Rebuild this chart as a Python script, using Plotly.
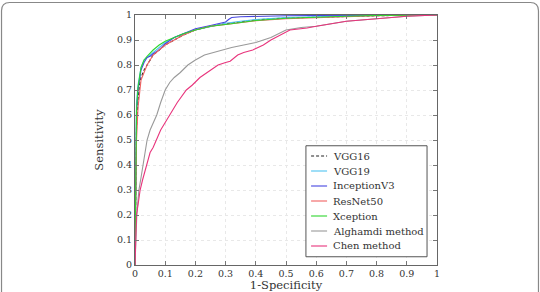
import plotly.graph_objects as go

# ---- data ----
vgg16_x = [0, 0.002, 0.005, 0.01, 0.015, 0.02, 0.03, 0.04, 0.05, 0.06, 0.08, 0.1, 0.13, 0.16, 0.2, 0.25, 0.3, 0.35, 0.4, 0.5, 0.6, 0.7, 0.8, 0.9, 1]
vgg16_y = [0, 0.35, 0.55, 0.66, 0.72, 0.75, 0.78, 0.80, 0.82, 0.84, 0.86, 0.88, 0.90, 0.92, 0.94, 0.955, 0.965, 0.972, 0.98, 0.988, 0.992, 0.995, 0.997, 0.999, 1]

vgg19_x = [0, 0.002, 0.005, 0.01, 0.015, 0.02, 0.03, 0.04, 0.06, 0.08, 0.1, 0.13, 0.16, 0.2, 0.25, 0.3, 0.35, 0.4, 0.5, 0.6, 0.7, 0.8, 0.9, 1]
vgg19_y = [0, 0.45, 0.65, 0.72, 0.76, 0.79, 0.82, 0.83, 0.85, 0.87, 0.89, 0.91, 0.925, 0.94, 0.955, 0.967, 0.975, 0.982, 0.99, 0.994, 0.996, 0.998, 0.999, 1]

incv3_x = [0, 0.002, 0.005, 0.01, 0.015, 0.02, 0.03, 0.04, 0.05, 0.06, 0.08, 0.1, 0.13, 0.16, 0.2, 0.25, 0.3, 0.31, 0.32, 0.35, 0.4, 0.5, 0.6, 0.7, 0.8, 0.9, 1]
incv3_y = [0, 0.40, 0.60, 0.70, 0.75, 0.78, 0.81, 0.83, 0.835, 0.845, 0.86, 0.885, 0.91, 0.925, 0.945, 0.958, 0.972, 0.982, 0.99, 0.993, 0.995, 0.997, 0.998, 0.999, 1, 1, 1]

resnet_x = [0, 0.002, 0.005, 0.01, 0.015, 0.02, 0.03, 0.04, 0.05, 0.06, 0.08, 0.1, 0.13, 0.16, 0.2, 0.25, 0.3, 0.35, 0.4, 0.5, 0.6, 0.7, 0.8, 0.9, 1]
resnet_y = [0, 0.30, 0.50, 0.63, 0.70, 0.74, 0.77, 0.80, 0.82, 0.84, 0.86, 0.88, 0.90, 0.92, 0.94, 0.955, 0.962, 0.97, 0.977, 0.985, 0.99, 0.994, 0.997, 0.999, 1]

xcep_x = [0, 0.002, 0.005, 0.01, 0.015, 0.02, 0.03, 0.04, 0.06, 0.08, 0.1, 0.13, 0.16, 0.2, 0.25, 0.3, 0.35, 0.4, 0.5, 0.6, 0.7, 0.8, 0.9, 1]
xcep_y = [0, 0.40, 0.62, 0.71, 0.76, 0.79, 0.82, 0.835, 0.86, 0.88, 0.895, 0.91, 0.925, 0.94, 0.955, 0.962, 0.97, 0.978, 0.987, 0.992, 0.995, 0.998, 1, 1]

algh_x = [0, 0.003, 0.006, 0.01, 0.013, 0.02, 0.027, 0.035, 0.04, 0.05, 0.06, 0.072, 0.085, 0.1, 0.115, 0.13, 0.15, 0.175, 0.2, 0.23, 0.26, 0.29, 0.32, 0.36, 0.4, 0.45, 0.5, 0.55, 0.6, 0.7, 0.8, 0.9, 1]
algh_y = [0, 0.12, 0.20, 0.26, 0.30, 0.35, 0.40, 0.45, 0.50, 0.54, 0.57, 0.60, 0.65, 0.70, 0.73, 0.75, 0.77, 0.80, 0.82, 0.84, 0.85, 0.86, 0.87, 0.88, 0.89, 0.91, 0.94, 0.95, 0.955, 0.975, 0.985, 0.995, 1]

chen_x = [0, 0.002, 0.003, 0.005, 0.01, 0.017, 0.025, 0.032, 0.04, 0.05, 0.06, 0.07, 0.085, 0.1, 0.116, 0.14, 0.17, 0.19, 0.215, 0.24, 0.275, 0.3, 0.315, 0.34, 0.36, 0.39, 0.425, 0.45, 0.48, 0.513, 0.57, 0.6, 0.7, 0.8, 0.9, 1]
chen_y = [0, 0.08, 0.15, 0.20, 0.24, 0.30, 0.34, 0.37, 0.40, 0.45, 0.47, 0.50, 0.54, 0.57, 0.60, 0.65, 0.70, 0.72, 0.75, 0.77, 0.80, 0.81, 0.815, 0.84, 0.85, 0.86, 0.88, 0.90, 0.92, 0.94, 0.948, 0.955, 0.975, 0.985, 0.995, 1]

tick_vals = [0, 0.1, 0.2, 0.3, 0.4, 0.5, 0.6, 0.7, 0.8, 0.9, 1]
tick_text = ["0", "0.1", "0.2", "0.3", "0.4", "0.5", "0.6", "0.7", "0.8", "0.9", "1"]

series_names = ["VGG16", "VGG19", "InceptionV3", "ResNet50", "Xception", "Alghamdi method", "Chen method"]
series_x = [vgg16_x, vgg19_x, incv3_x, resnet_x, xcep_x, algh_x, chen_x]
series_y = [vgg16_y, vgg19_y, incv3_y, resnet_y, xcep_y, algh_y, chen_y]
series_colors = ["#222222", "#4fc3f0", "#4646e0", "#f06262", "#2ed62e", "#999999", "#e8347c"]
series_dash = ["3px,2px", "solid", "solid", "solid", "solid", "solid", "solid"]

FONT = "DejaVu Serif"
TXT = "#333333"

fig = go.Figure()
for name, xs, ys, col, dash in zip(series_names, series_x, series_y, series_colors, series_dash):
    fig.add_trace(go.Scatter(x=xs, y=ys, mode="lines", name=name, showlegend=False,
                             line=dict(color=col, width=1.1, dash=dash)))

axis_common = dict(
    range=[0, 1], tickvals=tick_vals, ticktext=tick_text,
    ticks="inside", ticklen=4, tickcolor="#777777", tickwidth=0.8,
    showline=True, linecolor="#666666", linewidth=1, mirror="ticks",
    showgrid=True, gridcolor="#e8e8e8", griddash="dot", gridwidth=1,
    zeroline=False, automargin=False,
    tickfont=dict(family=FONT, size=9.5, color=TXT),
)

fig.update_layout(
    width=540, height=292,
    margin=dict(l=135, r=103, t=15, b=27),
    paper_bgcolor="white", plot_bgcolor="white",
    font=dict(family=FONT, size=9, color=TXT),
    xaxis=dict(**axis_common, title=dict(text="1-Specificity", standoff=14,
                                         font=dict(family=FONT, size=11.5, color=TXT))),
    yaxis=dict(**axis_common, title=dict(text="Sensitivity", standoff=10,
                                         font=dict(family=FONT, size=11.5, color=TXT))),
    showlegend=False,
)

# ---- legend box drawn in paper coordinates ----
lx0, lx1, ly0, ly1 = 0.566, 0.967, 0.033, 0.477
fig.add_shape(type="rect", xref="paper", yref="paper", x0=lx0, x1=lx1, y0=ly0, y1=ly1,
              line=dict(color="#555555", width=1), fillcolor="white", layer="above")
for i, (name, col, dash) in enumerate(zip(series_names, series_colors, series_dash)):
    yy = 0.436 - 0.06 * i
    fig.add_shape(type="line", xref="paper", yref="paper", x0=0.583, x1=0.636, y0=yy, y1=yy,
                  line=dict(color=col, width=1.1, dash=dash), layer="above")
    fig.add_annotation(x=0.649, y=yy, xref="paper", yref="paper", text=name, showarrow=False,
                       xanchor="left", yanchor="middle",
                       font=dict(family=FONT, size=10, color=TXT))

# rounded outer frame of the figure panel
x0, x1, y0, y1 = -0.442, 1.336, -0.16, 1.05
rx, ry = 0.027, 0.033
path = (f"M {x0+rx},{y1} L {x1-rx},{y1} Q {x1},{y1} {x1},{y1-ry} L {x1},{y0} "
        f"M {x0},{y0} L {x0},{y1-ry} Q {x0},{y1} {x0+rx},{y1}")
fig.add_shape(type="path", path=path, xref="paper", yref="paper",
              line=dict(color="#888888", width=1.2), layer="above")

fig.write_html("out.html")
